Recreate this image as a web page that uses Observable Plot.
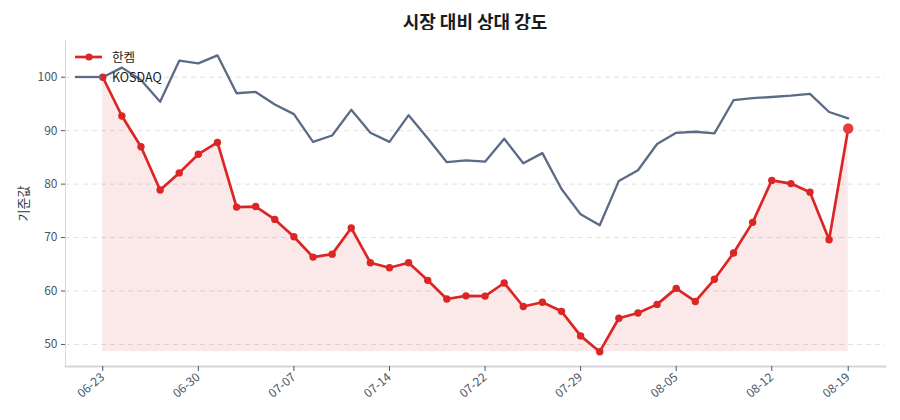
<!DOCTYPE html>
<html>
<head>
<meta charset="utf-8">
<script src="https://cdn.jsdelivr.net/npm/d3@7"></script>
<script src="https://cdn.jsdelivr.net/npm/@observablehq/plot@0.6"></script>
<style>
  html, body { margin: 0; padding: 0; background: #fff; }
  body { font-family: "Noto Sans CJK KR", "Noto Sans", sans-serif; }
  #wrap { position: relative; width: 900px; height: 420px; overflow: hidden; }
  #title { position: absolute; top: 8px; left: 475px; transform: translateX(-50%);
    font-size: 18px; font-weight: bold; line-height: 26px; color: #1a1a1a; white-space: nowrap; }
  #chart { position: absolute; top: 30px; left: 0; }
  #legend { position: absolute; left: 75px; top: 47px; width: 120px; font-size: 12.5px; color: #1a1a1a; }
  .item { position: relative; height: 20px; line-height: 20px; white-space: nowrap; }
  .item svg { position: absolute; left: 0; top: 0; }
  .item span { position: absolute; left: 37px; top: 0; white-space: nowrap; }
</style>
</head>
<body>
<div id="wrap">
  <div id="title">시장 대비 상대 강도</div>
  <div id="chart"></div>
  <div id="legend"></div>
</div>
<script>
const dates = [
  "06-23","06-24","06-25","06-26","06-27",
  "06-30","07-01","07-02","07-03","07-04",
  "07-07","07-08","07-09","07-10","07-11",
  "07-14","07-15","07-16","07-17","07-18",
  "07-22","07-23","07-24","07-25","07-28",
  "07-29","07-30","07-31","08-01","08-04",
  "08-05","08-06","08-07","08-08","08-11",
  "08-12","08-13","08-14","08-18","08-19"
];
const hanchem = [
  100, 92.75, 87.0, 78.9, 82.1, 85.6, 87.8, 75.7, 75.8, 73.4,
  70.15, 66.35, 66.9, 71.8, 65.3, 64.35, 65.3, 62.0, 58.5, 59.1,
  59.05, 61.5, 57.1, 57.9, 56.2, 51.6, 48.65, 54.9, 55.9, 57.5,
  60.5, 58.05, 62.2, 67.1, 72.85, 80.7, 80.1, 78.5, 69.6, 90.4
];
const kosdaq = [
  100, 101.8, 99.5, 95.4, 103.1, 102.6, 104.1, 97.0, 97.25, 94.9,
  93.1, 87.9, 89.1, 93.9, 89.6, 87.9, 92.9, 88.6, 84.1, 84.45,
  84.2, 88.5, 83.9, 85.8, 79.1, 74.35, 72.3, 80.6, 82.6, 87.5,
  89.6, 89.8, 89.5, 95.7, 96.1, 96.3, 96.55, 96.9, 93.5, 92.3
];
const tickLabels = ["06-23","06-30","07-07","07-14","07-22","07-29","08-05","08-12","08-19"];
const yTicks = [50, 60, 70, 80, 90, 100];
const seriesNames = ["한켐", "KOSDAQ"];

const RED = "#dc2626";
const SLATE = "#5b6b85";

const rows = dates.map((d, i) => ({i, date: d, h: hanchem[i], k: kosdaq[i]}));
const minH = d3.min(hanchem);
const allVals = hanchem.concat(kosdaq);
const yMin = d3.min(allVals), yMax = d3.max(allVals);
const yPad = (yMax - yMin) * 0.05;
const xPad = (dates.length - 1) * 0.05;
const last = rows[rows.length - 1];

const chart = Plot.plot({
  width: 900,
  height: 390,
  marginLeft: 65,
  marginRight: 15,
  marginTop: 10,
  marginBottom: 54,
  style: {fontFamily: '"Noto Sans CJK KR", "Noto Sans", sans-serif', fontSize: "12px", color: "#4a5568", background: "white"},
  x: {type: "linear", domain: [-xPad, dates.length - 1 + xPad]},
  y: {domain: [yMin - yPad, yMax + yPad]},
  marks: [
    Plot.gridY(yTicks, {stroke: "#d9d9d9", strokeOpacity: 0.8, strokeDasharray: "5,4", strokeWidth: 1}),
    Plot.areaY(rows, {x: "i", y1: () => minH, y2: "h", fill: RED, fillOpacity: 0.1, curve: "linear"}),
    Plot.frame({anchor: "left", stroke: "#d5d9e2", strokeWidth: 1}),
    Plot.frame({anchor: "bottom", stroke: "#d1d5db", strokeWidth: 1.8}),
    Plot.axisY(yTicks, {tickSize: 4, tickPadding: 4, stroke: "#4a5568", fill: "#4a5568", fontSize: 12,
      label: null}),
    Plot.axisY({label: "기준값", labelAnchor: "center", labelArrow: "none", labelOffset: 47, ticks: [],
      fill: "#2d3748", fontSize: 13}),
    Plot.axisX(tickLabels.map(l => dates.indexOf(l)), {tickSize: 5, tickPadding: 4, tickRotate: -40,
      tickFormat: i => dates[i], stroke: "#4a5568", fill: "#4a5568", fontSize: 12, label: null}),
    Plot.lineY(rows, {x: "i", y: "k", stroke: SLATE, strokeWidth: 2.3}),
    Plot.lineY(rows, {x: "i", y: "h", stroke: RED, strokeWidth: 2.7}),
    Plot.dot(rows.slice(0, -1), {x: "i", y: "h", r: 3.7, fill: RED, stroke: RED, strokeWidth: 0}),
    Plot.dot([last], {x: "i", y: "h", r: 5.2, fill: "#e53e3e"})
  ]
});
document.getElementById("chart").appendChild(chart);

// legend
const colors = [RED, SLATE];
const leg = document.getElementById("legend");
seriesNames.forEach((name, j) => {
  const div = document.createElement("div");
  div.className = "item";
  const marker = j === 0 ? `<circle cx="14" cy="10" r="3.6" fill="${colors[j]}"/>` : "";
  div.innerHTML = `<svg width="30" height="20"><line x1="0" x2="27" y1="10" y2="10" stroke="${colors[j]}" stroke-width="${j === 0 ? 2.7 : 2.3}"/>${marker}</svg><span>${name}</span>`;
  leg.appendChild(div);
});
</script>
</body>
</html>
